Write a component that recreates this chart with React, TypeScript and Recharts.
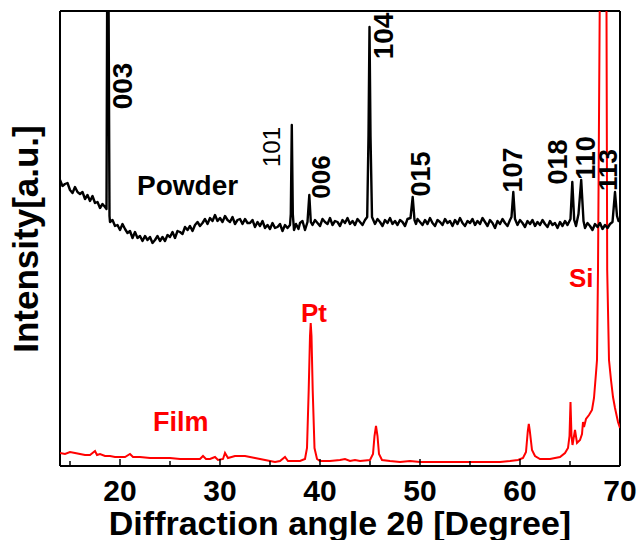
import React from 'react';
import { LineChart, Line, XAxis, YAxis, ReferenceLine, ReferenceDot } from 'recharts';

// 2θ (degree), intensity (a.u.)
const powderPattern: [number, number][] = [
  [14.0, 286], [14.25, 280], [14.5, 282], [14.75, 283], [15.0, 276], [15.25, 273], [15.5, 279], [15.75, 274],
  [16.0, 272], [16.25, 274], [16.5, 267], [16.75, 271], [17.0, 265], [17.25, 270], [17.5, 263], [17.75, 264],
  [18.0, 258], [18.25, 262], [18.5, 259], [18.65, 257], [18.72, 480], [18.85, 480], [18.95, 250], [19.0, 244],
  [19.25, 246], [19.5, 240], [19.75, 241], [20.0, 236], [20.25, 242], [20.5, 237], [20.75, 233], [21.0, 235],
  [21.25, 228], [21.5, 234], [21.75, 228], [22.0, 230], [22.25, 225], [22.5, 230], [22.75, 226], [23.0, 229],
  [23.25, 223], [23.5, 226], [23.75, 230], [24.0, 225], [24.25, 229], [24.5, 225], [24.75, 231], [25.0, 229],
  [25.25, 234], [25.5, 228], [25.75, 235], [26.0, 234], [26.25, 232], [26.5, 239], [26.75, 236], [27.0, 240],
  [27.25, 235], [27.5, 241], [27.75, 244], [28.0, 240], [28.25, 243], [28.5, 247], [28.75, 242], [29.0, 248],
  [29.25, 245], [29.5, 251], [29.75, 245], [30.0, 248], [30.25, 244], [30.5, 250], [30.75, 246], [31.0, 244],
  [31.25, 249], [31.5, 242], [31.75, 246], [32.0, 247], [32.25, 242], [32.5, 247], [32.75, 243], [33.0, 243],
  [33.25, 246], [33.5, 239], [33.75, 244], [34.0, 240], [34.25, 245], [34.5, 238], [34.75, 241], [35.0, 237],
  [35.25, 243], [35.5, 238], [35.75, 239], [36.0, 242], [36.25, 235], [36.5, 241], [36.75, 238], [37.0, 241],
  [37.08, 252], [37.18, 341], [37.28, 252], [37.4, 236], [37.6, 242], [37.85, 237], [38.0, 243], [38.25, 245],
  [38.5, 236], [38.75, 244], [38.93, 271], [39.08, 244], [39.25, 241], [39.5, 246], [39.75, 243], [40.0, 240],
  [40.25, 247], [40.5, 244], [40.75, 242], [41.0, 248], [41.25, 241], [41.5, 245], [41.75, 244], [42.0, 240],
  [42.25, 246], [42.5, 243], [42.75, 248], [43.0, 242], [43.25, 245], [43.5, 241], [43.75, 247], [44.0, 244],
  [44.25, 241], [44.5, 246], [44.72, 249], [44.85, 330], [44.95, 439], [45.05, 330], [45.2, 249], [45.5, 242],
  [45.75, 247], [46.0, 244], [46.25, 240], [46.5, 246], [46.75, 243], [47.0, 248], [47.25, 242], [47.5, 245],
  [47.75, 241], [48.0, 246], [48.25, 244], [48.5, 240], [48.75, 247], [49.05, 248], [49.27, 269], [49.45, 246],
  [49.6, 242], [49.75, 247], [50.0, 244], [50.25, 241], [50.5, 246], [50.75, 242], [51.0, 248], [51.25, 243],
  [51.5, 240], [51.75, 246], [52.0, 244], [52.25, 241], [52.5, 247], [52.75, 243], [53.0, 245], [53.25, 240],
  [53.5, 246], [53.75, 242], [54.0, 248], [54.25, 243], [54.5, 240], [54.75, 245], [55.0, 243], [55.25, 247],
  [55.5, 241], [55.75, 245], [56.0, 242], [56.25, 248], [56.5, 244], [56.75, 240], [57.0, 246], [57.25, 243],
  [57.5, 238], [57.75, 245], [58.0, 242], [58.25, 247], [58.5, 243], [58.75, 240], [59.0, 246], [59.15, 249],
  [59.33, 274], [59.5, 247], [59.75, 241], [60.0, 246], [60.25, 243], [60.5, 239], [60.75, 245], [61.0, 242],
  [61.25, 246], [61.5, 240], [61.75, 244], [62.0, 241], [62.25, 246], [62.5, 242], [62.75, 239], [63.0, 245],
  [63.25, 241], [63.5, 243], [63.75, 238], [64.0, 244], [64.25, 240], [64.5, 245], [64.75, 241], [65.05, 247],
  [65.23, 284], [65.42, 246], [65.6, 240], [65.85, 252], [66.12, 286], [66.35, 245], [66.5, 238], [66.75, 243],
  [67.0, 240], [67.25, 236], [67.5, 242], [67.75, 239], [68.0, 243], [68.25, 237], [68.5, 241], [68.75, 238],
  [69.0, 242], [69.25, 244], [69.5, 274], [69.7, 250], [69.85, 245], [70.0, 246],
];

const filmPattern: [number, number][] = [
  [14.0, 13], [14.5, 12], [15.0, 14], [15.5, 13], [16.0, 12], [16.5, 11], [17.0, 11], [17.5, 15], [17.7, 11],
  [18.0, 12], [18.5, 10], [19.0, 10], [19.5, 9], [20.0, 9], [20.5, 9], [21.0, 12], [21.3, 9], [22.0, 9],
  [23.0, 8], [24.0, 8], [25.0, 8], [26.0, 7], [27.0, 7], [28.0, 7], [28.3, 10], [28.6, 7], [29.0, 7],
  [29.5, 9], [29.8, 6], [30.3, 7], [30.5, 13], [30.8, 8], [31.5, 10], [32.5, 10], [33.5, 8], [34.5, 6],
  [35.5, 4], [36.0, 5], [36.5, 9], [36.8, 5], [37.5, 5], [38.0, 5], [38.5, 7], [38.7, 18], [38.87, 76],
  [39.0, 130], [39.07, 143], [39.15, 130], [39.27, 76], [39.45, 18], [39.7, 7], [40.0, 5], [41.0, 5],
  [42.0, 6], [42.5, 7], [43.0, 5], [43.5, 6], [44.0, 5], [45.0, 6], [45.3, 12], [45.45, 30], [45.6, 40],
  [45.75, 30], [45.9, 12], [46.2, 6], [47.0, 5], [48.0, 4], [49.0, 5], [50.0, 4], [51.0, 4], [52.0, 4],
  [53.0, 4], [54.0, 4], [55.0, 4], [56.0, 4], [57.0, 4], [58.0, 4], [59.0, 5], [59.8, 6], [60.3, 8],
  [60.6, 14], [60.78, 35], [60.88, 42], [60.98, 35], [61.2, 16], [61.5, 10], [62.0, 7], [62.5, 7], [63.0, 7],
  [63.5, 8], [64.0, 9], [64.5, 13], [64.8, 18], [64.95, 30], [65.05, 64], [65.15, 30], [65.25, 21],
  [65.5, 36], [65.7, 23], [66.0, 26], [66.2, 32], [66.3, 44], [66.4, 39], [66.6, 47], [66.9, 51],
  [67.2, 56], [67.4, 68], [67.6, 93], [67.7, 106], [67.8, 196], [67.97, 455], [68.05, 800], [68.55, 800],
  [68.65, 455], [68.72, 196], [68.9, 106], [69.1, 86], [69.3, 69], [69.5, 58], [69.8, 44], [70.0, 38],
];

const majorTicks = [20, 30, 40, 50, 60, 70];
const minorTicks = [15, 25, 35, 45, 55, 65];

const peakLabels = ['003', '101', '006', '104', '015', '107', '018', '110', '113'];
const peakLabelX = [21.2, 36.0, 41.0, 47.3, 51.0, 60.2, 64.7, 67.5, 69.7];
const peakLabelY = [380, 319, 289, 430, 292, 296, 304, 308, 296];
const peakLabelSize = [28, 24, 26, 28, 27, 27, 27, 27, 26];
const peakLabelWeight = ['bold', 'normal', 'bold', 'bold', 'bold', 'bold', 'bold', 'bold', 'bold'];

const sampleLabels = ['Powder', 'Film', 'Pt', 'Si'];
const sampleLabelX = [21.7, 23.3, 38.1, 64.9];
const sampleLabelY = [271, 35, 144, 179];
const sampleLabelSize = [28, 27, 26, 26];
const sampleLabelColor = ['#000000', '#ff0000', '#ff0000', '#ff0000'];

const FONT = '"Liberation Sans", Arial, Helvetica, sans-serif';

const powderData = powderPattern.map(([x, y]) => ({ x, y }));
const filmData = filmPattern.map(([x, y]) => ({ x, y }));

const AxisTick = (props: any) => {
  const { x, y, payload } = props;
  const major = majorTicks.includes(payload.value);
  return (
    <g>
      <line x1={x} x2={x} y1={y} y2={y - (major ? 7 : 5)} stroke="#000" strokeWidth={1.5} />
      {major && (
        <text x={x} y={y + 35} textAnchor="middle" fontFamily={FONT} fontWeight="bold" fontSize={30} fill="#000">
          {payload.value}
        </text>
      )}
    </g>
  );
};

export default function App() {
  return (
    <div style={{ position: 'absolute', left: 0, top: 0, background: '#fff' }}>
      <LineChart width={639} height={540} margin={{ top: 11, right: 19, left: 60, bottom: 0 }}>
        <XAxis
          dataKey="x"
          type="number"
          domain={[14, 70]}
          ticks={[...minorTicks, ...majorTicks].sort((a, b) => a - b)}
          interval={0}
          tick={<AxisTick />}
          tickLine={false}
          tickSize={0}
          tickMargin={0}
          height={74}
          axisLine={{ stroke: '#000', strokeWidth: 2 }}
          allowDataOverflow
          label={{
            value: 'Diffraction angle 2θ [Degree]',
            position: 'insideBottom',
            offset: 5,
            style: { fontFamily: FONT, fontWeight: 'bold', fontSize: 34, fill: '#000' },
          }}
        />
        <YAxis type="number" domain={[0, 455]} hide allowDataOverflow />
        <ReferenceLine x={14} stroke="#000" strokeWidth={2} />
        <ReferenceLine x={70} stroke="#000" strokeWidth={2} />
        <ReferenceLine y={455} stroke="#000" strokeWidth={2} />
        <Line data={filmData} dataKey="y" type="linear" stroke="#ff0000" strokeWidth={2} dot={false} isAnimationActive={false} />
        <Line data={powderData} dataKey="y" type="linear" stroke="#000000" strokeWidth={2.4} strokeLinejoin="round" dot={false} isAnimationActive={false} />
        {peakLabels.map((t, i) => (
          <ReferenceDot
            key={t}
            x={peakLabelX[i]}
            y={peakLabelY[i]}
            r={0}
            shape={(p: any) => (
              <text
                x={p.cx}
                y={p.cy}
                transform={`rotate(-90 ${p.cx} ${p.cy})`}
                textAnchor="middle"
                fontFamily={FONT}
                fontWeight={peakLabelWeight[i]}
                fontSize={peakLabelSize[i]}
                fill="#000"
              >
                {t}
              </text>
            )}
          />
        ))}
        {sampleLabels.map((t, i) => (
          <ReferenceDot
            key={t}
            x={sampleLabelX[i]}
            y={sampleLabelY[i]}
            r={0}
            shape={(p: any) => (
              <text x={p.cx} y={p.cy} textAnchor="start" fontFamily={FONT} fontWeight="bold" fontSize={sampleLabelSize[i]} fill={sampleLabelColor[i]}>
                {t}
              </text>
            )}
          />
        ))}
        <ReferenceDot
          x={14}
          y={227}
          r={0}
          shape={(p: any) => (
            <text
              x={p.cx - 22}
              y={p.cy}
              transform={`rotate(-90 ${p.cx - 22} ${p.cy})`}
              textAnchor="middle"
              fontFamily={FONT}
              fontWeight="bold"
              fontSize={35}
              fill="#000"
            >
              Intensity[a.u.]
            </text>
          )}
        />
      </LineChart>
    </div>
  );
}
